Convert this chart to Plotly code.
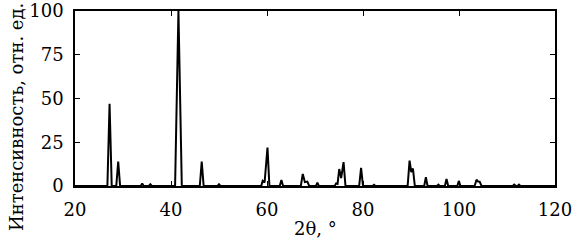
import plotly.graph_objects as go

two_theta = [20, 26.75, 27.2, 27.65, 28.6, 29.0, 29.4, 33.7, 34.0, 34.3,
             35.4, 35.7, 36.0, 40.85, 41.55, 42.25, 46.0, 46.4, 46.8, 49.7,
             50.0, 50.3, 58.8, 59.1, 59.5, 60.1, 60.5, 62.65, 63.0, 63.35,
             67.05, 67.45, 67.9, 68.4, 68.8, 70.2, 70.5, 70.8, 74.1, 74.4,
             74.7, 75.05, 75.45, 75.95, 76.35, 79.2, 79.6, 80.0, 82.0, 82.3,
             82.6, 89.3, 89.7, 90.05, 90.4, 90.8, 92.75, 93.1, 93.45, 95.4,
             95.7, 96.0, 97.05, 97.4, 97.75, 99.65, 99.96, 100.3, 103.25, 103.65,
             103.95, 104.3, 104.7, 111.2, 111.5, 111.9, 112.2, 112.5, 112.8, 120]
intensity = [0, 0, 47, 0, 0, 14, 0, 0, 1.5, 0,
             0, 1.0, 0, 0, 100, 0, 0, 14, 0, 0,
             1.0, 0, 0, 3, 2, 22, 0, 0, 3.4, 0,
             0, 6.9, 2.2, 2.5, 0, 0, 1.9, 0, 0, 1.5,
             1.2, 9.7, 4.5, 13.7, 0, 0, 10.3, 0, 0, 0.7,
             0, 0, 14.5, 8, 10, 0, 0, 5, 0, 0,
             0.8, 0, 0, 4, 0, 0, 2.9, 0, 0, 3.6,
             2.6, 2.5, 0, 0, 0.8, 0, 0, 0.8, 0, 0]

x_ticks = [20, 40, 60, 80, 100, 120]
y_ticks = [0, 25, 50, 75, 100]
x_title = "2θ, °"
y_title = "Интенсивность, отн. ед."

font = dict(family="DejaVu Serif", size=18, color="black")

fig = go.Figure()
fig.add_trace(go.Scatter(x=two_theta, y=intensity, mode="lines",
                         line=dict(color="black", width=2), showlegend=False,
                         hoverinfo="skip"))

axis_common = dict(showline=True, linecolor="black", linewidth=1.5, mirror="ticks",
                   ticks="inside", ticklen=5, tickwidth=1.2, tickcolor="black",
                   showgrid=False, zeroline=False, tickfont=font, automargin=False,
                   ticklabeloverflow="allow")

fig.update_xaxes(range=[20, 120], tickvals=x_ticks, ticklabelstandoff=7, **axis_common)
fig.update_yaxes(range=[0, 100], tickvals=y_ticks, ticklabelstandoff=6, **axis_common)

fig.add_annotation(text=x_title, xref="paper", yref="paper", x=0.5, y=-0.24,
                   xanchor="center", yanchor="middle", showarrow=False, font=font)
fig.add_annotation(text=y_title, xref="paper", yref="paper", x=-0.123, y=0.394,
                   xanchor="center", yanchor="middle", textangle=-90,
                   showarrow=False, font=font)

fig.update_layout(width=579, height=244, margin=dict(l=75, r=24, t=11, b=58),
                  paper_bgcolor="white", plot_bgcolor="white", font=font)

fig.write_html("out.html", config={"displayModeBar": False},
               post_script="document.body.style.margin='0';document.body.style.overflow='hidden';")
